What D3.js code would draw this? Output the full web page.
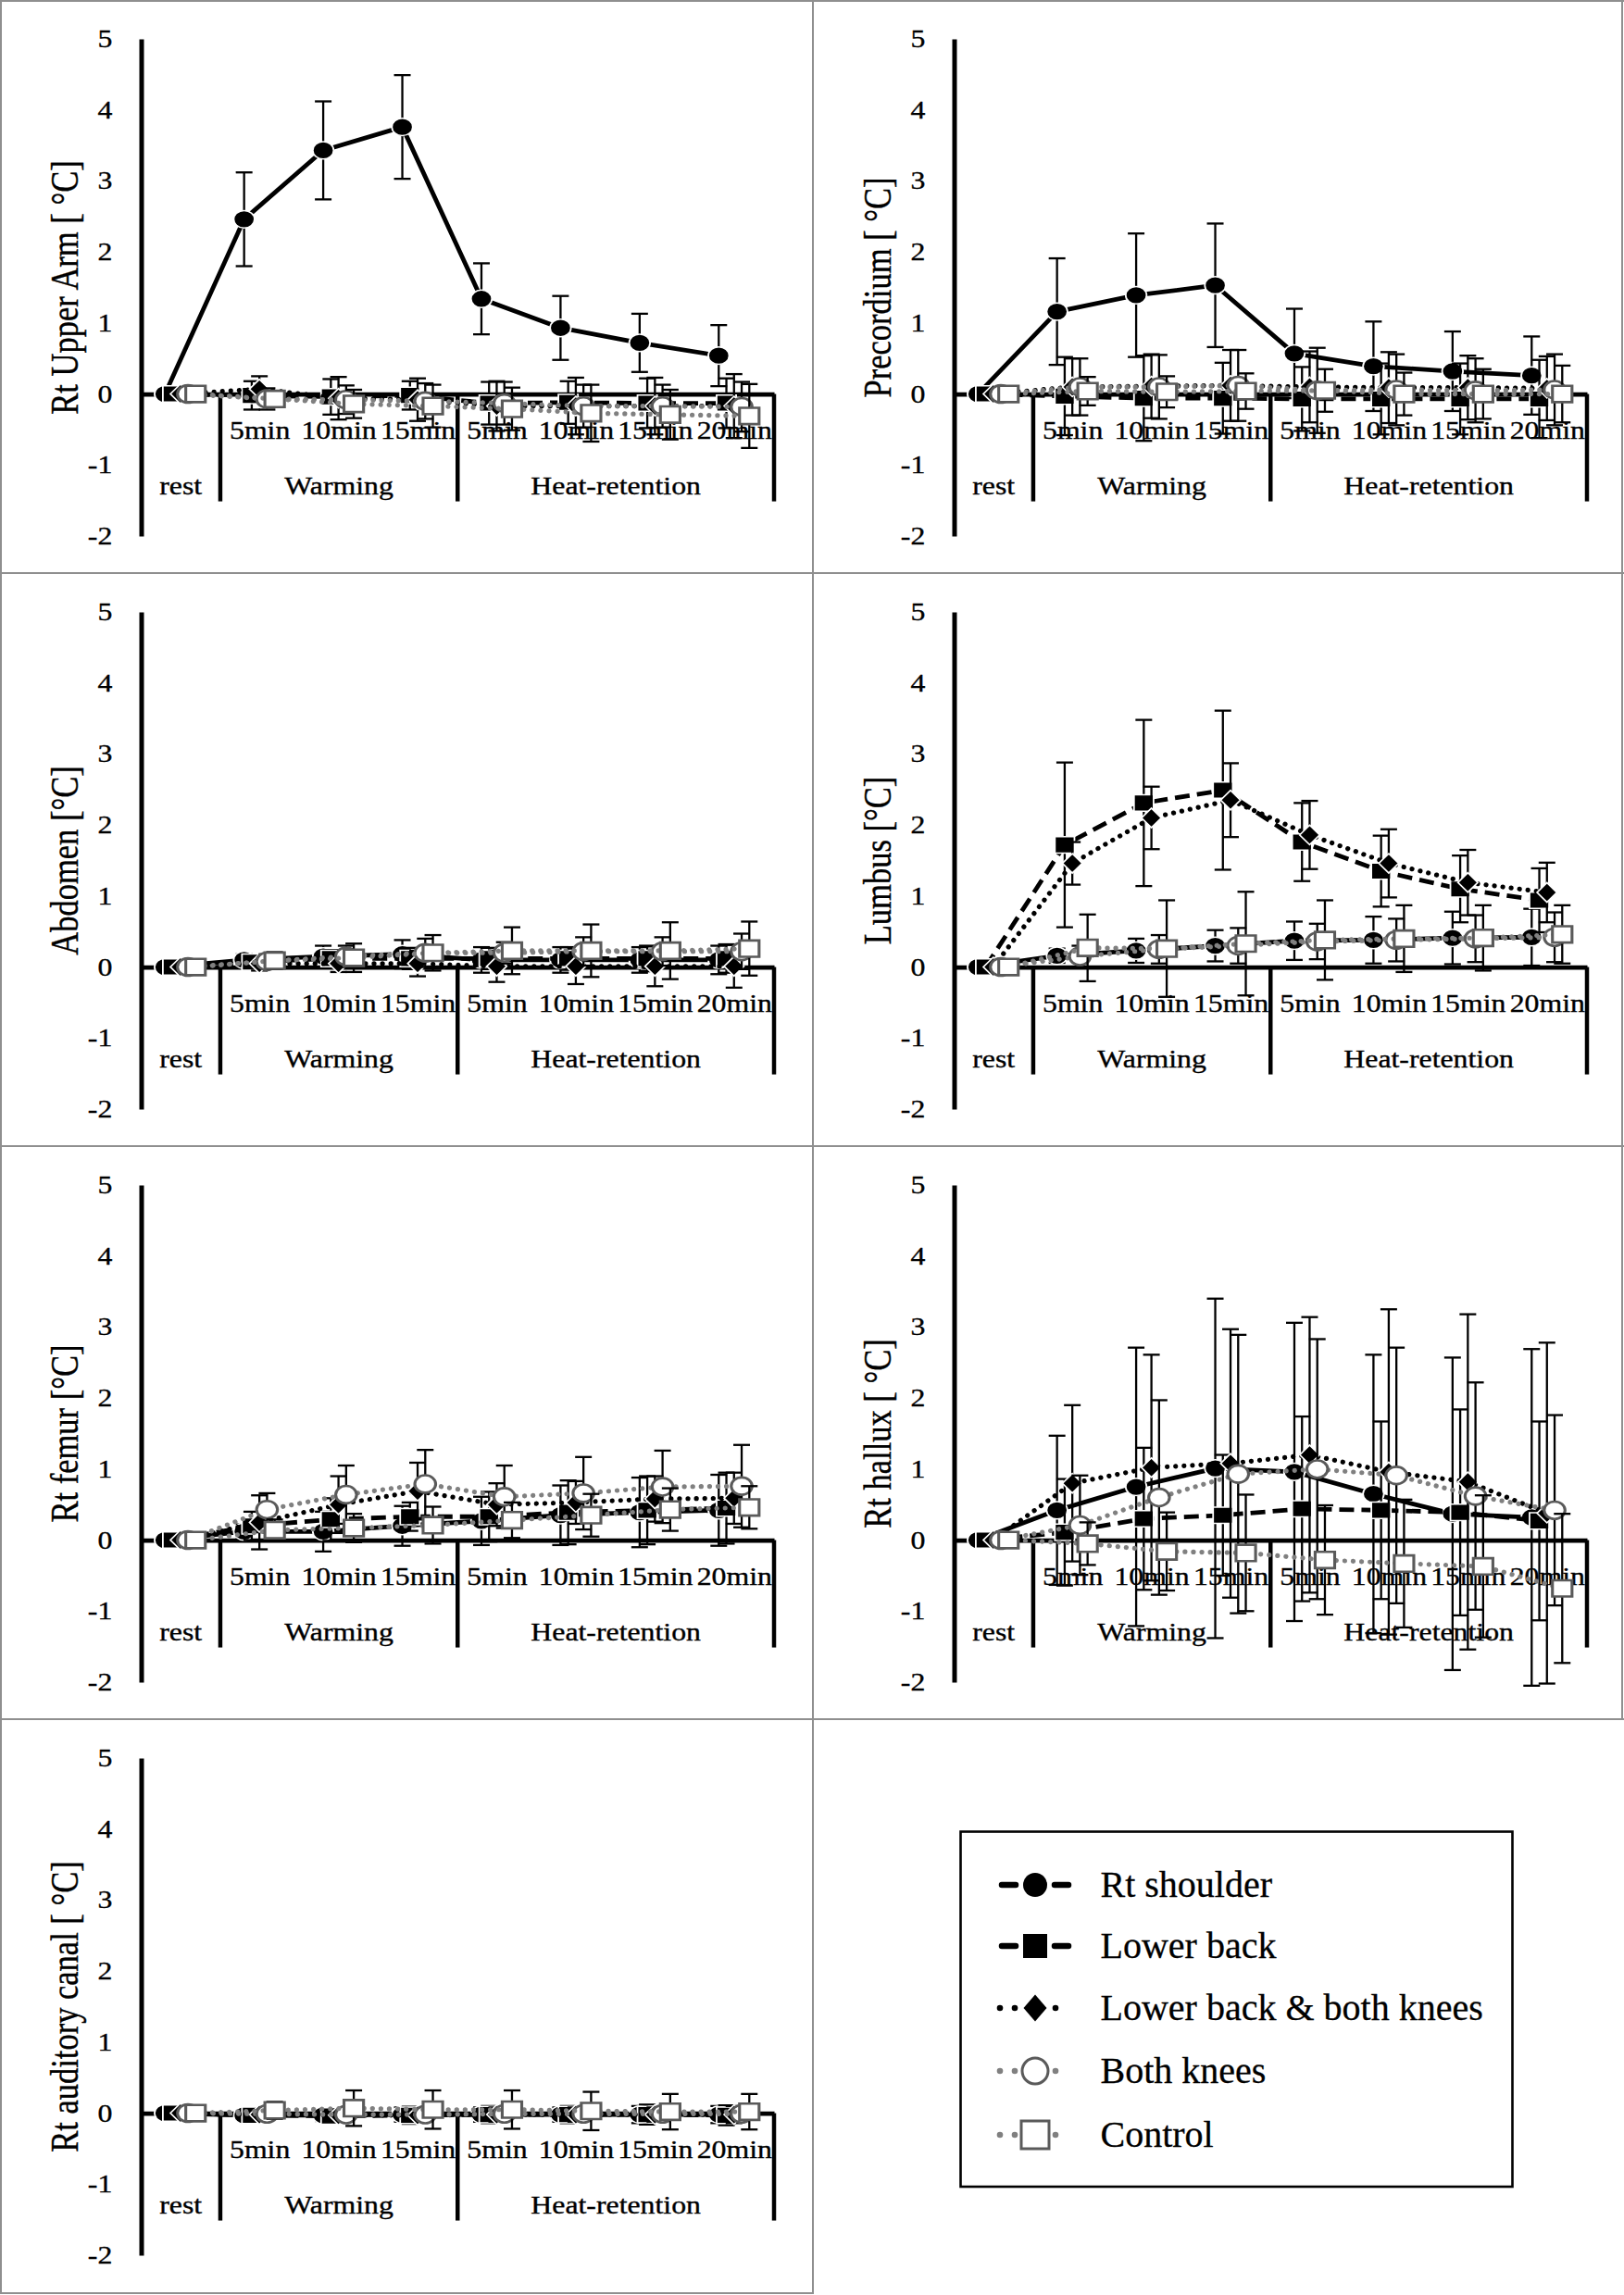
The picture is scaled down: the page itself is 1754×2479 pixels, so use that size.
<!DOCTYPE html>
<html><head><meta charset="utf-8">
<script src="https://cdn.jsdelivr.net/npm/d3@7"></script>
<style>
body{margin:0;background:#fff}
svg{display:block}
text{font-family:"Liberation Serif","Times New Roman",serif;fill:#000}
</style>
</head><body>
<svg id="chart" width="1754" height="2479"></svg>
<script>
// ---------- data ----------
const categories = ["rest","W5","W10","W15","H5","H10","H15","H20"];
const timeLabels = ["","5min","10min","15min","5min","10min","15min","20min"];
const phaseNames = ["rest","Warming","Heat-retention"];
const phaseSpans = [1,3,4];
const yTicks = [-2,-1,0,1,2,3,4,5];
const seriesNames = ["Rt shoulder","Lower back","Lower back & both knees","Both knees","Control"];
const panelTitles = ["Rt Upper Arm [ °C]","Precordium [ °C]","Abdomen [°C]","Lumbus [°C]","Rt femur [°C]","Rt hallux [ °C]","Rt auditory canal [ °C]"];

// order of inner arrays: Rt shoulder, Lower back, Lower back & both knees, Both knees, Control
const upperArmMean = [
  [0,2.46,3.43,3.76,1.34,0.93,0.72,0.54],
  [0,-0.02,-0.04,-0.02,-0.13,-0.12,-0.13,-0.13],
  [0,0.07,-0.06,-0.08,-0.17,-0.17,-0.17,-0.17],
  [0,-0.07,-0.08,-0.10,-0.13,-0.17,-0.17,-0.18],
  [0,-0.07,-0.14,-0.17,-0.21,-0.27,-0.29,-0.31]];
const upperArmSD = [
  [0,0.66,0.69,0.73,0.50,0.45,0.41,0.43],
  [0,0.20,0.25,0.20,0.30,0.30,0.35,0.35],
  [0,0.18,0.30,0.30,0.35,0.40,0.40,0.45],
  [0,0.15,0.20,0.25,0.30,0.30,0.30,0.35],
  [0,0.10,0.20,0.30,0.30,0.40,0.35,0.45]];

const precordiumMean = [
  [0,1.16,1.39,1.53,0.57,0.39,0.32,0.26],
  [0,-0.03,-0.06,-0.06,-0.07,-0.07,-0.07,-0.07],
  [0,0.10,0.11,0.12,0.10,0.09,0.09,0.08],
  [0,0.10,0.10,0.12,0.05,0.06,0.05,0.06],
  [0,0.04,0.03,0.04,0.05,0.00,0.00,0.00]];
const precordiumSD = [
  [0,0.75,0.87,0.87,0.63,0.63,0.56,0.55],
  [0,0.55,0.60,0.50,0.45,0.50,0.50,0.55],
  [0,0.40,0.45,0.50,0.50,0.50,0.45,0.45],
  [0,0.40,0.45,0.50,0.60,0.50,0.45,0.50],
  [0,0.20,0.22,0.25,0.30,0.30,0.35,0.40]];

const abdomenMean = [
  [0,0.10,0.15,0.18,0.10,0.10,0.10,0.10],
  [0,0.07,0.12,0.12,0.12,0.12,0.12,0.12],
  [0,0.05,0.05,0.05,0.01,0.01,0.01,0.01],
  [0,0.08,0.15,0.20,0.20,0.22,0.22,0.22],
  [0,0.09,0.13,0.20,0.23,0.23,0.23,0.26]];
const abdomenSD = [
  [0,0.08,0.15,0.20,0.18,0.18,0.18,0.20],
  [0,0.10,0.12,0.15,0.15,0.16,0.18,0.20],
  [0,0.10,0.12,0.18,0.22,0.25,0.28,0.30],
  [0,0.10,0.15,0.20,0.15,0.20,0.20,0.25],
  [0,0.12,0.20,0.25,0.33,0.37,0.40,0.38]];

const lumbusMean = [
  [0,0.16,0.23,0.30,0.37,0.38,0.41,0.42],
  [0,1.72,2.31,2.49,1.76,1.35,1.10,0.94],
  [0,1.46,2.10,2.35,1.86,1.46,1.19,1.05],
  [0,0.15,0.25,0.30,0.36,0.38,0.40,0.42],
  [0,0.27,0.26,0.33,0.38,0.40,0.41,0.46]];
const lumbusSD = [
  [0,0.10,0.17,0.22,0.27,0.33,0.37,0.40],
  [0,1.16,1.17,1.12,0.55,0.50,0.47,0.45],
  [0,0.30,0.44,0.52,0.48,0.48,0.46,0.42],
  [0,0.15,0.20,0.25,0.25,0.30,0.33,0.35],
  [0,0.47,0.68,0.73,0.56,0.47,0.46,0.41]];

const femurMean = [
  [0,0.12,0.12,0.20,0.27,0.35,0.39,0.42],
  [0,0.20,0.29,0.33,0.33,0.39,0.42,0.45],
  [0,0.25,0.50,0.69,0.50,0.53,0.58,0.59],
  [0,0.43,0.64,0.79,0.61,0.66,0.75,0.76],
  [0,0.14,0.17,0.21,0.28,0.35,0.43,0.46]];
const femurSD = [
  [0,0.10,0.28,0.28,0.34,0.42,0.49,0.50],
  [0,0.20,0.30,0.20,0.35,0.45,0.48,0.50],
  [0,0.38,0.40,0.40,0.30,0.30,0.32,0.36],
  [0,0.23,0.41,0.48,0.44,0.51,0.51,0.58],
  [0,0.15,0.20,0.26,0.25,0.30,0.30,0.30]];

const halluxMean = [
  [0,0.42,0.75,1.01,0.96,0.65,0.37,0.32],
  [0,0.11,0.30,0.35,0.44,0.42,0.39,0.27],
  [0,0.80,1.02,1.08,1.20,0.96,0.82,0.38],
  [0,0.21,0.60,0.93,1.00,0.91,0.62,0.42],
  [0,-0.05,-0.16,-0.18,-0.28,-0.33,-0.37,-0.68]];
const halluxSD = [
  [0,1.05,1.96,2.39,2.10,1.96,2.20,2.37],
  [0,0.75,1.00,0.85,1.30,1.25,1.45,1.40],
  [0,1.10,1.59,1.89,1.94,2.29,2.36,2.40],
  [0,0.70,1.37,1.96,1.83,1.80,1.60,1.34],
  [0,0.30,0.55,0.82,0.77,0.90,1.00,1.05]];

const auditoryMean = [
  [0,-0.03,-0.03,-0.02,-0.02,-0.02,-0.02,-0.02],
  [0,-0.03,-0.04,-0.03,-0.02,-0.02,-0.02,-0.03],
  [0,-0.02,-0.03,-0.03,-0.02,-0.02,-0.02,-0.02],
  [0,-0.01,-0.02,-0.02,-0.01,-0.01,-0.01,-0.01],
  [0,0.04,0.07,0.05,0.05,0.03,0.02,0.02]];
const auditorySD = [
  [0,0.06,0.08,0.10,0.10,0.10,0.12,0.12],
  [0,0.08,0.10,0.12,0.12,0.12,0.14,0.14],
  [0,0.06,0.08,0.08,0.10,0.10,0.10,0.12],
  [0,0.05,0.06,0.07,0.08,0.08,0.08,0.08],
  [0,0.12,0.25,0.27,0.27,0.27,0.25,0.25]];

// ---------- layout / style ----------
const panels = [
  {means:upperArmMean, sds:upperArmSD, col:0, row:0},
  {means:precordiumMean, sds:precordiumSD, col:1, row:0},
  {means:abdomenMean, sds:abdomenSD, col:0, row:1},
  {means:lumbusMean, sds:lumbusSD, col:1, row:1},
  {means:femurMean, sds:femurSD, col:0, row:2},
  {means:halluxMean, sds:halluxSD, col:1, row:2},
  {means:auditoryMean, sds:auditorySD, col:0, row:3}
];
const CELL_X = [0, 878];
const CELL_Y = [0, 619, 1238, 1857];
const SX = 1.2;       // horizontal stretch of the original chart pictures
const GRAY = "#808080", MGRAY = "#5a5a5a";
const styles = [
  {stroke:"#000", w:4.8, dash:null, cap:"butt", marker:"circle", fill:"#000", mstroke:"#fff", msw:1.5},
  {stroke:"#000", w:4.8, dash:"16,8", cap:"butt", marker:"square", fill:"#000", mstroke:"#fff", msw:1.5},
  {stroke:"#000", w:5.2, dash:"0.1,9", cap:"round", marker:"diamond", fill:"#000", mstroke:"#fff", msw:1.5},
  {stroke:GRAY, w:5.2, dash:"0.1,9", cap:"round", marker:"circle", fill:"#fff", mstroke:MGRAY, msw:2.6},
  {stroke:GRAY, w:5.2, dash:"0.1,9", cap:"round", marker:"square", fill:"#fff", mstroke:MGRAY, msw:2.6}
];

const svg = d3.select("#chart");

// cell borders
const borders = svg.append("g").attr("stroke","#8f8f8f").attr("stroke-width",2);
borders.append("line").attr("x1",0).attr("x2",1754).attr("y1",1).attr("y2",1);
[619,1238,1857].forEach(yy=>borders.append("line").attr("x1",0).attr("x2",1754).attr("y1",yy).attr("y2",yy));
borders.append("line").attr("x1",0).attr("x2",878).attr("y1",2477).attr("y2",2477);
borders.append("line").attr("x1",1).attr("x2",1).attr("y1",0).attr("y2",2478);
borders.append("line").attr("x1",878).attr("x2",878).attr("y1",0).attr("y2",2478);
borders.append("line").attr("x1",1752).attr("x2",1752).attr("y1",0).attr("y2",1857);

function markerPath(type, s){
  if(type==="circle") return d3.symbol().type(d3.symbolCircle).size(Math.PI*s*s)();
  if(type==="square") return `M${-s},${-s}H${s}V${s}H${-s}Z`;
  return `M0,${-s*1.12}L${s*0.95},0L0,${s*1.12}L${-s*0.95},0Z`;
}

const x = d3.scaleBand().domain(categories).range([152.5, 836]);
const off = d3.scalePoint().domain(seriesNames).range([-17, 16]);
const y = d3.scaleLinear().domain([-2,5]).range([579, 42]);
const bw = x.bandwidth();

panels.forEach((p, pi) => {
  const g = svg.append("g").attr("transform",`translate(${CELL_X[p.col]},${CELL_Y[p.row]})`);
  const y0 = y(0);

  // y axis
  const ya = g.append("g").attr("transform","translate(152.5,0)")
    .call(d3.axisLeft(y).tickValues(yTicks).tickSize(0).tickSizeOuter(0).tickPadding(26).tickFormat(d=>String(d)));
  ya.select(".domain").attr("stroke","#000").attr("stroke-width",5);
  ya.selectAll("text").attr("font-size",26.5).attr("font-family","Liberation Serif")
    .attr("stroke","#000").attr("stroke-width",0.35).attr("transform",`scale(${SX},1)`);

  // x axis (time labels)
  const xa = g.append("g").attr("transform",`translate(0,${y0})`)
    .call(d3.axisBottom(x).tickSize(0).tickSizeOuter(0).tickPadding(29.5).tickFormat((d,i)=>timeLabels[i]));
  xa.select(".domain").attr("stroke","#000").attr("stroke-width",4.7);
  xa.selectAll("text").attr("font-size",26.5).attr("font-family","Liberation Serif")
    .attr("stroke","#000").attr("stroke-width",0.35).attr("transform",`scale(${SX},1)`);

  // phase separators and labels
  let start = 0;
  phaseSpans.forEach((span, k) => {
    const end = start + span;
    const xs = x(categories[start]);
    const xe = x(categories[end-1]) + bw;
    g.append("line").attr("x1",xe).attr("x2",xe).attr("y1",y0).attr("y2",y0+116)
      .attr("stroke","#000").attr("stroke-width",4.5);
    g.append("text").attr("transform",`translate(${(xs+xe)/2},${y0+108}) scale(${SX},1)`)
      .attr("text-anchor","middle").attr("font-size",26.5).attr("stroke","#000").attr("stroke-width",0.35)
      .text(phaseNames[k]);
    start = end;
  });

  // y title
  g.append("text").attr("transform",`translate(70,${(y(5)+y(-2))/2}) scale(${SX},1) rotate(-90)`)
    .attr("text-anchor","middle").attr("dy","0.35em").attr("font-size",34.5)
    .attr("stroke","#000").attr("stroke-width",0.35).text(panelTitles[pi]);

  // series
  seriesNames.forEach((name, si) => {
    const st = styles[si];
    const pts = p.means[si].map((m,i)=>({cx: x(categories[i]) + bw/2 + off(name), m, sd: p.sds[si][i]}));
    g.append("path").datum(pts)
      .attr("d", d3.line().x(d=>d.cx).y(d=>y(d.m)))
      .attr("fill","none").attr("stroke",st.stroke).attr("stroke-width",st.w)
      .attr("stroke-dasharray",st.dash).attr("stroke-linecap",st.cap).attr("stroke-linejoin","round");
    const eb = g.append("g").attr("stroke","#000").attr("stroke-width",2.3)
      .selectAll("g").data(pts.filter(d=>d.sd>0)).join("g");
    eb.append("line").attr("x1",d=>d.cx).attr("x2",d=>d.cx).attr("y1",d=>y(d.m-d.sd)).attr("y2",d=>y(d.m+d.sd));
    eb.append("line").attr("x1",d=>d.cx-9).attr("x2",d=>d.cx+9).attr("y1",d=>y(d.m-d.sd)).attr("y2",d=>y(d.m-d.sd));
    eb.append("line").attr("x1",d=>d.cx-9).attr("x2",d=>d.cx+9).attr("y1",d=>y(d.m+d.sd)).attr("y2",d=>y(d.m+d.sd));
    g.append("g").selectAll("path").data(pts).join("path")
      .attr("transform",d=>`translate(${d.cx},${y(d.m)}) scale(${SX},1)`)
      .attr("d", markerPath(st.marker, st.marker==="square"?8.8:9.4))
      .attr("fill",st.fill).attr("stroke",st.mstroke).attr("stroke-width",st.msw);
  });
});

// ---------- legend ----------
const lg = svg.append("g");
lg.append("rect").attr("x",1037.5).attr("y",1978.5).attr("width",596).attr("height",383.5)
  .attr("fill","#fff").attr("stroke","#000").attr("stroke-width",2.6);
const legendY = [2036, 2102, 2169, 2237, 2306];
const lmx = 1118;
seriesNames.forEach((name, si) => {
  const st = styles[si];
  const cy = legendY[si];
  if(si < 2){
    [[1082,1097],[1139,1154]].forEach(([a,b])=>lg.append("line").attr("x1",a).attr("x2",b).attr("y1",cy).attr("y2",cy)
      .attr("stroke","#000").attr("stroke-width",6.5).attr("stroke-linecap","round"));
  } else {
    [1080,1096,1140].forEach(dx=>lg.append("circle").attr("cx",dx).attr("cy",cy).attr("r",3.3)
      .attr("fill", si===2?"#000":GRAY));
  }
  let d;
  if(st.marker==="circle") d = d3.symbol().type(d3.symbolCircle).size(Math.PI*(si===0?13:14)**2)();
  else if(st.marker==="square") d = si===1 ? "M-13,-13H13V13H-13Z" : "M-15,-15H15V15H-15Z";
  else d = "M0,-14.5L12.5,0L0,14.5L-12.5,0Z";
  lg.append("path").attr("transform",`translate(${lmx},${cy})`).attr("d",d)
    .attr("fill",st.fill).attr("stroke", si<3 ? "none" : MGRAY).attr("stroke-width",3);
  lg.append("text").attr("x",1188.5).attr("y",cy).attr("dy","0.33em").attr("font-size",40)
    .attr("stroke","#000").attr("stroke-width",0.3).text(name);
});
</script>
</body></html>
